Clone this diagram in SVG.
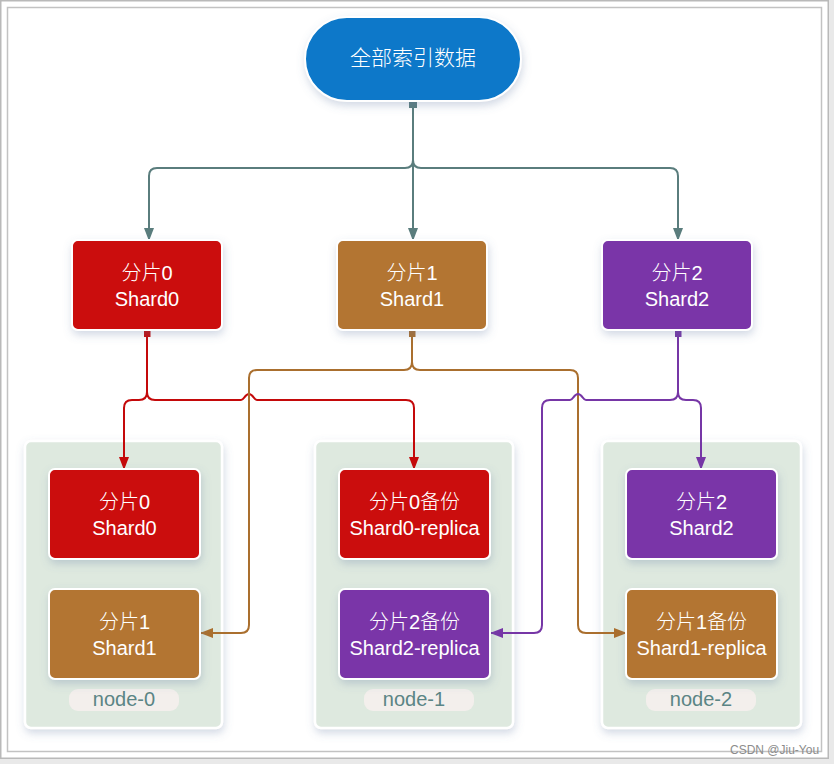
<svg xmlns="http://www.w3.org/2000/svg" width="834" height="764" viewBox="0 0 834 764">
<defs>
<filter id="sh" x="-20%" y="-20%" width="140%" height="150%">
<feDropShadow dx="1" dy="4" stdDeviation="4" flood-color="#5f74a0" flood-opacity="0.28"/>
</filter>
<marker id="aT" markerUnits="userSpaceOnUse" markerWidth="13" markerHeight="10" viewBox="0 0 13 10" refX="12" refY="5" orient="auto"><path d="M0,0 L13,5 L0,10 z" fill="#5a7d7d"/></marker>
<marker id="aR" markerUnits="userSpaceOnUse" markerWidth="13" markerHeight="10" viewBox="0 0 13 10" refX="12" refY="5" orient="auto"><path d="M0,0 L13,5 L0,10 z" fill="#c4090a"/></marker>
<marker id="aB" markerUnits="userSpaceOnUse" markerWidth="13" markerHeight="10" viewBox="0 0 13 10" refX="12" refY="5" orient="auto"><path d="M0,0 L13,5 L0,10 z" fill="#aa6f2e"/></marker>
<marker id="aP" markerUnits="userSpaceOnUse" markerWidth="13" markerHeight="10" viewBox="0 0 13 10" refX="12" refY="5" orient="auto"><path d="M0,0 L13,5 L0,10 z" fill="#7636a6"/></marker>
<marker id="sT" markerUnits="userSpaceOnUse" markerWidth="8" markerHeight="8" viewBox="0 0 8 8" refX="4" refY="2"><rect width="8" height="8" fill="#5a7d7d"/></marker>
<marker id="sR" markerUnits="userSpaceOnUse" markerWidth="7" markerHeight="7" viewBox="0 0 7 7" refX="3.5" refY="1"><rect width="7" height="7" fill="#c4090a"/></marker>
<marker id="sB" markerUnits="userSpaceOnUse" markerWidth="7" markerHeight="7" viewBox="0 0 7 7" refX="3.5" refY="1"><rect width="7" height="7" fill="#aa6f2e"/></marker>
<marker id="sP" markerUnits="userSpaceOnUse" markerWidth="7" markerHeight="7" viewBox="0 0 7 7" refX="3.5" refY="1"><rect width="7" height="7" fill="#7636a6"/></marker>
</defs>
<style>
.box{stroke:#fff;stroke-width:2;filter:url(#sh)}
.red{fill:#cb0707}
.brn{fill:#b37431}
.pur{fill:#7a36a8}
.grp{fill:#dee9df;stroke:#fff;stroke-width:2.5;filter:url(#sh)}
.pill{fill:#f3efec}
.t{font-family:"Liberation Sans","Noto Sans CJK SC",sans-serif;font-size:20px;font-weight:300;fill:#fff;text-anchor:middle}
.cj{font-family:"Noto Sans CJK SC","Liberation Sans",sans-serif;font-size:21px;font-weight:300;fill:#fff;text-anchor:middle}
.lbl{font-family:"Liberation Sans",sans-serif;font-size:20px;fill:#5b8585;text-anchor:middle}
.c{fill:none;stroke-width:2}
.cT{stroke:#5a7d7d}
.cR{stroke:#c4090a}
.cB{stroke:#aa6f2e}
.cP{stroke:#7636a6}
</style>
<rect x="0" y="0" width="834" height="764" fill="#e9e9e9"/>
<rect x="0.75" y="0.75" width="827.5" height="757.5" fill="#fff" stroke="#b9b9b9" stroke-width="1.5"/>
<rect x="7.5" y="7.5" width="814" height="744" fill="none" stroke="#c2c2c2" stroke-width="1.5"/>

<g id="group-node-0">
<rect class="grp" x="25" y="441" width="197" height="287" rx="6"/>
<rect class="pill" x="69" y="689" width="110" height="22" rx="9"/>
<text class="lbl" x="124" y="706">node-0</text>
</g>
<g id="group-node-1">
<rect class="grp" x="315" y="441" width="198" height="287" rx="6"/>
<rect class="pill" x="364" y="689" width="110" height="22" rx="9"/>
<text class="lbl" x="414" y="706">node-1</text>
</g>
<g id="group-node-2">
<rect class="grp" x="602" y="441" width="199" height="287" rx="6"/>
<rect class="pill" x="646" y="689" width="110" height="22" rx="9"/>
<text class="lbl" x="701" y="706">node-2</text>
</g>

<g id="connectors">
<path class="c cT" d="M413,102 V160 Q413,168 405,168 H157 Q149,168 149,176 V240" marker-start="url(#sT)" marker-end="url(#aT)"/>
<path class="c cT" d="M413,102 V240" marker-end="url(#aT)"/>
<path class="c cT" d="M413,102 V160 Q413,168 421,168 H670 Q678,168 678,176 V240" marker-end="url(#aT)"/>

<path class="c cR" d="M147,331 V392 Q147,400 139,400 H132 Q124,400 124,408 V469" marker-start="url(#sR)" marker-end="url(#aR)"/>
<path class="c cR" d="M147,331 V392 Q147,400 155,400 H241 C244,400 245,394 249,394 C253,394 254,400 257,400 H406 Q414,400 414,408 V469" marker-end="url(#aR)"/>

<path class="c cB" d="M412,331 V362 Q412,370 404,370 H257 Q249,370 249,378 V625 Q249,633 241,633 H201" marker-start="url(#sB)" marker-end="url(#aB)"/>
<path class="c cB" d="M412,331 V362 Q412,370 420,370 H570 Q578,370 578,378 V625 Q578,633 586,633 H626" marker-end="url(#aB)"/>

<path class="c cP" d="M678,331 V392 Q678,400 670,400 H586 C583,400 582,394 578,394 C574,394 573,400 570,400 H550 Q542,400 542,408 V625 Q542,633 534,633 H491" marker-start="url(#sP)" marker-end="url(#aP)"/>
<path class="c cP" d="M678,331 V392 Q678,400 686,400 H693 Q701,400 701,408 V469" marker-end="url(#aP)"/>
</g>

<g id="all-data">
<rect x="305" y="17" width="216" height="84" rx="42" fill="#0a78c9" stroke="#fff" stroke-width="2" filter="url(#sh)"/>
<text class="cj" x="413" y="65">全部索引数据</text>
</g>

<g id="shard0">
<rect class="box red" x="72" y="240" width="150" height="90" rx="6"/>
<text class="t" x="147" y="280">分片0</text>
<text class="t" x="147" y="306">Shard0</text>
</g>
<g id="shard1">
<rect class="box brn" x="337" y="240" width="150" height="90" rx="6"/>
<text class="t" x="412" y="280">分片1</text>
<text class="t" x="412" y="306">Shard1</text>
</g>
<g id="shard2">
<rect class="box pur" x="602" y="240" width="150" height="90" rx="6"/>
<text class="t" x="677" y="280">分片2</text>
<text class="t" x="677" y="306">Shard2</text>
</g>

<g id="n0-shard0">
<rect class="box red" x="49" y="469" width="151" height="90" rx="6"/>
<text class="t" x="124.5" y="509">分片0</text>
<text class="t" x="124.5" y="535">Shard0</text>
</g>
<g id="n0-shard1">
<rect class="box brn" x="49" y="589" width="151" height="90" rx="6"/>
<text class="t" x="124.5" y="629">分片1</text>
<text class="t" x="124.5" y="655">Shard1</text>
</g>
<g id="n1-shard0-replica">
<rect class="box red" x="339" y="469" width="151" height="90" rx="6"/>
<text class="t" x="414.5" y="509">分片0备份</text>
<text class="t" x="414.5" y="535">Shard0-replica</text>
</g>
<g id="n1-shard2-replica">
<rect class="box pur" x="339" y="589" width="151" height="90" rx="6"/>
<text class="t" x="414.5" y="629">分片2备份</text>
<text class="t" x="414.5" y="655">Shard2-replica</text>
</g>
<g id="n2-shard2">
<rect class="box pur" x="626" y="469" width="151" height="90" rx="6"/>
<text class="t" x="701.5" y="509">分片2</text>
<text class="t" x="701.5" y="535">Shard2</text>
</g>
<g id="n2-shard1-replica">
<rect class="box brn" x="626" y="589" width="151" height="90" rx="6"/>
<text class="t" x="701.5" y="629">分片1备份</text>
<text class="t" x="701.5" y="655">Shard1-replica</text>
</g>

<text x="730" y="754" font-family="Liberation Sans,sans-serif" font-size="12" fill="#8c8c8c">CSDN @Jiu-You</text>
</svg>
